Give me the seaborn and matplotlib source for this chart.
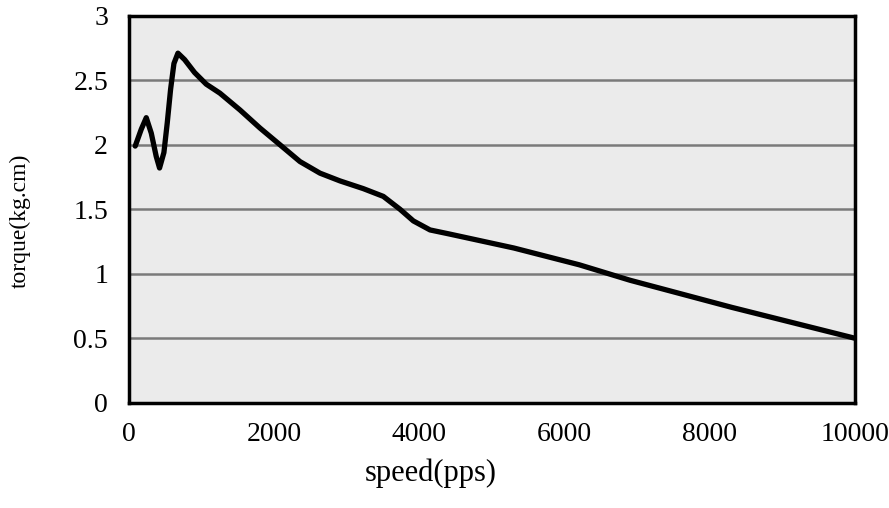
import numpy as np
import pandas as pd
import matplotlib
matplotlib.use('Agg')
import matplotlib.pyplot as plt
import seaborn as sns
from matplotlib.ticker import FuncFormatter

# values
speed = [87, 170, 239, 308, 376, 422, 482, 528, 574, 620, 675, 767, 904, 1064,
         1253, 1529, 1804, 2080, 2355, 2631, 2906, 3228, 3503, 3733, 3916, 4146,
         4400, 5300, 6200, 6900, 8300, 10000]
torque = [1.99, 2.12, 2.21, 2.09, 1.91, 1.82, 1.94, 2.17, 2.43, 2.63, 2.71, 2.66, 2.56, 2.47,
          2.40, 2.27, 2.13, 2.00, 1.87, 1.78, 1.72, 1.66, 1.60, 1.50, 1.41, 1.34,
          1.31, 1.20, 1.07, 0.95, 0.74, 0.50]
x_ticks = [0, 2000, 4000, 6000, 8000, 10000]
y_ticks = [0, 0.5, 1, 1.5, 2, 2.5, 3]

df = pd.DataFrame({'speed': speed, 'torque': torque})

sns.set_theme(style='white')
plt.rcParams['font.family'] = ['Liberation Serif', 'DejaVu Serif']
plt.rcParams['text.color'] = 'black'
plt.rcParams['axes.labelcolor'] = 'black'
plt.rcParams['xtick.labelcolor'] = 'black'
plt.rcParams['ytick.labelcolor'] = 'black'

fig = plt.figure(figsize=(8.89, 5.08), dpi=100)
ax = fig.add_axes([0.145, 0.207, 0.817, 0.762])
ax.set_facecolor('#ebebeb')

sns.lineplot(data=df, x='speed', y='torque', ax=ax, color='black', linewidth=3.8,
             zorder=3, solid_joinstyle='round', solid_capstyle='round')

ax.set_xlim(0, 10000)
ax.set_ylim(0, 3)
ax.set_xticks(x_ticks)
ax.set_yticks(y_ticks)
ax.yaxis.set_major_formatter(FuncFormatter(lambda v, p: '%g' % v))
ax.grid(axis='y', color='#7a7a7a', linewidth=1.8)
ax.grid(axis='x', visible=False)
ax.set_axisbelow(True)
for s in ax.spines.values():
    s.set_color('black')
    s.set_linewidth(2.5)
ax.tick_params(axis='x', direction='in', length=4, width=1, color='#555555',
               labelsize=20, pad=14)
ax.tick_params(axis='y', length=0, labelsize=20, pad=15)

ax.set_xlabel('speed(pps)', fontsize=22)
ax.xaxis.set_label_coords(0.415, -0.145)
ax.set_ylabel('torque(kg.cm)', fontsize=17)
ax.yaxis.set_label_coords(-0.135, 0.47)

fig.savefig('out.png', dpi=100)
